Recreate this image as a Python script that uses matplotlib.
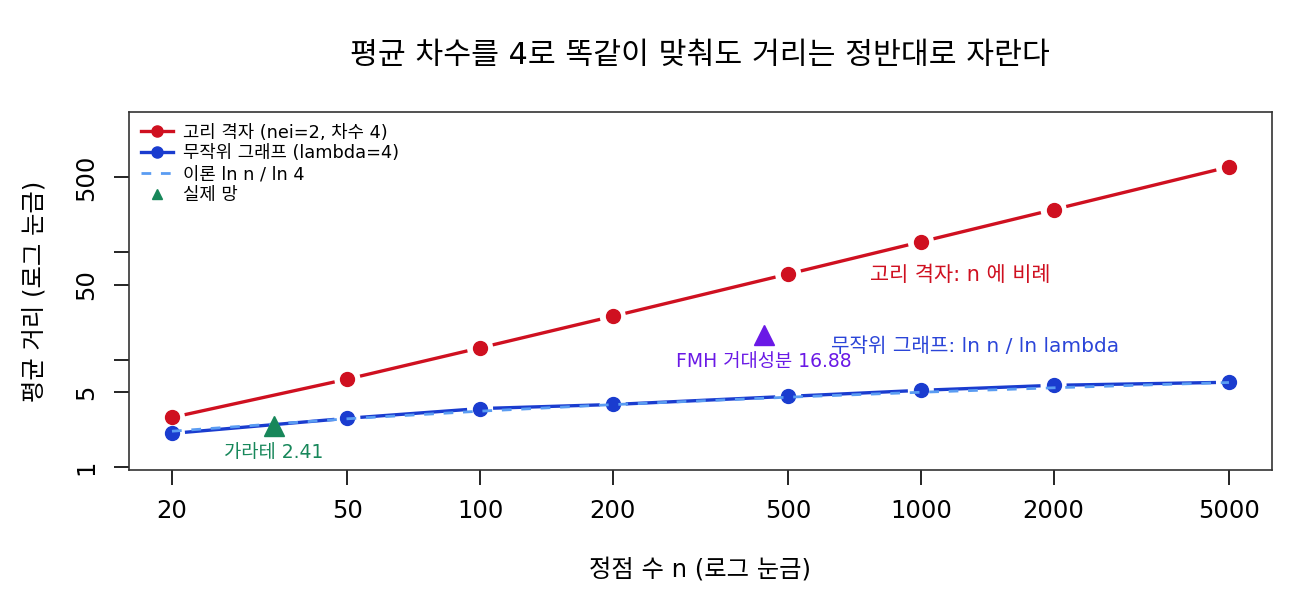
import numpy as np
import matplotlib
matplotlib.use("Agg")
from matplotlib import pyplot as plt
from matplotlib.lines import Line2D

# Latin glyphs from DejaVu (wide, like the reference), Hangul from Noto CJK
plt.rcParams["font.family"] = ["DejaVu Sans", "Noto Sans CJK KR"]

# data
n_nodes = [20, 50, 100, 200, 500, 1000, 2000, 5000]
ring_dist = [2.9, 6.6, 12.9, 25.4, 62.9, 125.4, 250.4, 625.4]
random_dist = [2.06, 2.85, 3.51, 3.83, 4.56, 5.19, 5.78, 6.17]
theory_dist = [2.16, 2.82, 3.32, 3.82, 4.48, 4.98, 5.48, 6.14]
real_names = ["가라테", "FMH 거대성분"]
real_n = [34, 440]
real_dist = [2.41, 16.88]

x_ticks = [20, 50, 100, 200, 500, 1000, 2000, 5000]
y_ticks = [1, 5, 10, 50, 100, 500]
y_ticklabels = ["1", "5", "", "50", "", "500"]

red = "#CF1020"
blue = "#1A3CCF"
light_blue = "#5A9CF2"
green = "#17875A"
purple = "#6A19E6"

fig = plt.figure(figsize=(13, 6), dpi=100)
ax = fig.add_axes([129 / 1300, 130 / 600, 1143 / 1300, 358 / 600])
ax.set_xscale("log")
ax.set_yscale("log")
ax.set_xlim(15.98, 6260)
ax.set_ylim(0.94, 2030)


def gapped_line(ax, x, y, gap=13, **kw):
    "R type='b' style: segments stop short of each point"
    pts = ax.transData.transform(np.column_stack([x, y]))
    inv = ax.transData.inverted()
    for p0, p1 in zip(pts[:-1], pts[1:]):
        d = p1 - p0
        L = np.hypot(*d)
        if L <= 2 * gap:
            continue
        u = d / L
        a, b = inv.transform(np.array([p0 + gap * u, p1 - gap * u]))
        ax.plot([a[0], b[0]], [a[1], b[1]], solid_capstyle="butt", **kw)


gapped_line(ax, n_nodes, ring_dist, color=red, lw=2.4)
ax.plot(n_nodes, ring_dist, "o", color=red, ms=10, lw=0)
gapped_line(ax, n_nodes, random_dist, color=blue, lw=2.4)
ax.plot(n_nodes, random_dist, "o", color=blue, ms=10, lw=0)
ax.plot(n_nodes, theory_dist, color=light_blue, lw=2.0, dashes=(3.5, 3.5))

real_colors = [green, purple]
for name, xx, yy, c in zip(real_names, real_n, real_dist, real_colors):
    ax.plot([xx], [yy], "^", color=c, ms=14, lw=0)
    ax.annotate(f"{name} {yy:.2f}", (xx, yy), xytext=(0, -19),
                textcoords="offset points", ha="center", va="center",
                color=c, fontsize=13.5)

ax.text(0.727, 0.545, "고리 격자: n 에 비례", transform=ax.transAxes,
        ha="center", va="center", color=red, fontsize=15)
ax.text(0.740, 0.344, "무작위 그래프: ln n / ln lambda", transform=ax.transAxes,
        ha="center", va="center", color="#2B45D8", fontsize=14.5)

# axes
ax.set_xticks(x_ticks)
ax.set_xticklabels([str(v) for v in x_ticks])
ax.set_yticks(y_ticks)
ax.set_yticklabels(y_ticklabels, rotation=90, va="center")
ax.minorticks_off()
ax.tick_params(axis="both", direction="out", length=11, width=1.2,
               labelsize=17.5)
ax.tick_params(axis="x", pad=10)
ax.tick_params(axis="y", pad=11)
for s in ax.spines.values():
    s.set_color("#333333")
    s.set_linewidth(1.2)

fig.text(700 / 1300, 1 - 55 / 600, "평균 차수를 4로 똑같이 맞춰도 거리는 정반대로 자란다",
         ha="center", va="center", fontsize=21.8)
fig.text(700 / 1300, 1 - 570 / 600, "정점 수 n (로그 눈금)",
         ha="center", va="center", fontsize=17.5)
fig.text(35 / 1300, 1 - 291 / 600, "평균 거리 (로그 눈금)",
         ha="center", va="center", rotation=90, fontsize=17.5)

# legend
handles = [
    Line2D([], [], color=red, lw=2.4, marker="o", ms=8),
    Line2D([], [], color=blue, lw=2.4, marker="o", ms=8),
    Line2D([], [], color=light_blue, lw=2.0, dashes=(3.5, 3.5)),
    Line2D([], [], color=green, lw=0, marker="^", ms=7),
]
labels = ["고리 격자 (nei=2, 차수 4)", "무작위 그래프 (lambda=4)",
          "이론 ln n / ln 4", "실제 망"]
ax.legend(handles, labels, loc="upper left", frameon=False, fontsize=12.8,
          handlelength=1.8, handletextpad=0.6, labelspacing=0.16,
          borderaxespad=0.35, borderpad=0.3)

fig.savefig("out.png", dpi=100)
